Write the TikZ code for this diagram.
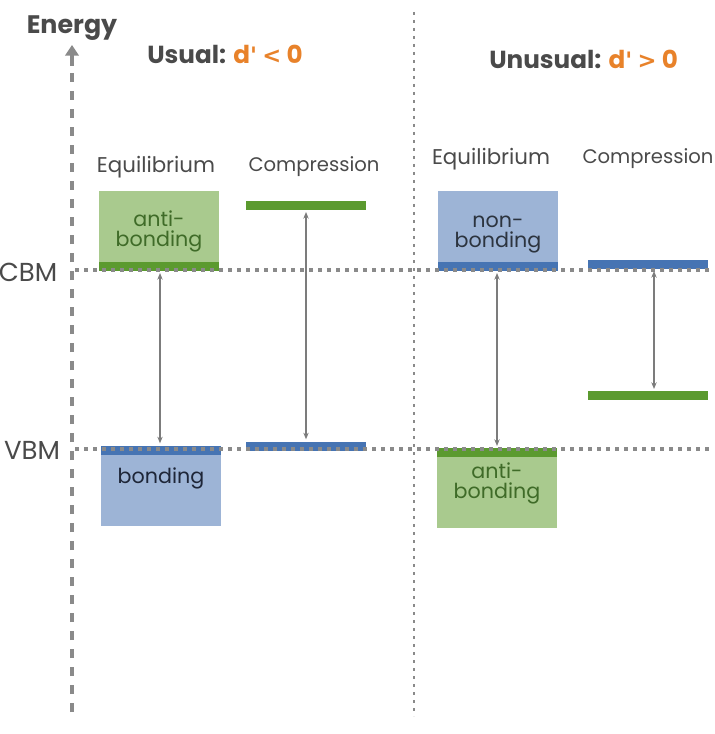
\documentclass[tikz,border=0pt]{standalone}
\usepackage{fontspec}
\setmainfont{Poppins}
\newfontfamily\symfont{DejaVu Sans}
\usetikzlibrary{arrows.meta}
\definecolor{lgreen}{HTML}{A9CA8E}
\definecolor{dgreen}{HTML}{5B9A2F}
\definecolor{lblue}{HTML}{9DB4D6}
\definecolor{dblue}{HTML}{4674B3}
\definecolor{orng}{HTML}{E8822A}
\definecolor{txt}{HTML}{4A4A4A}
\definecolor{gline}{HTML}{8A8A8A}
\definecolor{gtxt}{HTML}{3F6B28}
\definecolor{btxt}{HTML}{1E2638}
\newcommand{\symb}[1]{{\symfont\bfseries\fontsize{17}{20}\selectfont #1}}
\begin{document}
\begin{tikzpicture}[x=0.75pt,y=-0.75pt,
  box/.style={minimum width=90pt,minimum height=60pt,inner sep=0pt,outer sep=0pt},
  strip/.style={minimum width=90pt,minimum height=6.75pt,inner sep=0pt,outer sep=0pt},
  title/.style={font=\bfseries\fontsize{18.5}{22}\selectfont,text=txt,inner sep=0pt},
  colhead/.style={font=\fontsize{16}{19}\selectfont,text=txt,inner sep=0pt},
  comphead/.style={font=\fontsize{14.7}{19}\selectfont,text=txt,inner sep=0pt},
  lvl/.style={font=\fontsize{19.5}{22}\selectfont,text=txt,inner sep=0pt},
  boxtxt/.style={font=\fontsize{15.5}{15}\selectfont,align=center,inner sep=0pt},
  level/.style={gline,line width=3pt,dash pattern=on 3pt off 3.75pt},
  gap/.style={gline!90!black,line width=0.9pt,{Stealth[length=5pt,width=4pt]}-{Stealth[length=5pt,width=4pt]}},
  divider/.style={gline,line width=1.5pt,dash pattern=on 2pt off 4pt},
  axis/.style={gline,line width=3pt,dash pattern=on 6.75pt off 6.75pt}
]
\useasboundingbox (0,0) rectangle (714,734);

% axis
\coordinate (axb) at (72,712);
\coordinate (axm) at (72,62);
\coordinate (axt) at (72,45);
\draw[axis] (axb) -- (axm);
\draw[gline,line width=3pt,-{Triangle[width=10pt,length=8pt]}] ([yshift=-3pt]axm) -- (axt);
\node[title,font=\bfseries\fontsize{19}{22}\selectfont] (energy) at (72,28) {Energy};

% divider
\coordinate (dvt) at (414,12);
\coordinate (dvb) at (414,716);
\draw[divider] (dvt) -- (dvb);

% titles
\node[title,anchor=west] (usual) at (147,54) {Usual:\hspace{0.3em}\textcolor{orng}{d\symb{\symbol{39}} \symb{<} 0}};
\node[title,anchor=west] (unusual) at (489,59) {Unusual:\hspace{0.3em}\textcolor{orng}{d\symb{\symbol{39}} \symb{>} 0}};

% column heads
\node[colhead] (h1) at (156,167) {Equilibrium};
\node[comphead] (h2) at (314,167) {Compression};
\node[colhead] (h3) at (491,159) {Equilibrium};
\node[comphead] (h4) at (648,159) {Compression};

% level labels
\node[lvl] (cbm) at (28,272) {CBM};
\node[lvl] (vbm) at (32,450) {VBM};

% boxes
\node[box,fill=lgreen] (ab1) at (159,231) {};
\node[strip,fill=dgreen,anchor=south] (ab1s) at (ab1.south) {};
\node[boxtxt,text=gtxt] (ab1t) at (159,231) {anti-\\bonding};

\node[box,fill=lblue] (b1) at (161,486) {};
\node[strip,fill=dblue,anchor=north] (b1s) at (b1.north) {};
\node[boxtxt,text=btxt] (b1t) at (161,478) {bonding};

\node[strip,fill=dgreen] (c1a) at (306,205.5) {};
\node[strip,fill=dblue] (c1b) at (306,446.5) {};

\node[box,fill=lblue] (nb2) at (498,231) {};
\node[strip,fill=dblue,anchor=south] (nb2s) at (nb2.south) {};
\node[boxtxt,text=txt!70!dblue!60!black] (nb2t) at (498,235) {non-\\bonding};

\node[box,fill=lgreen] (ab2) at (497,488) {};
\node[strip,fill=dgreen,anchor=north] (ab2s) at (ab2.north) {};
\node[boxtxt,text=gtxt] (ab2t) at (497,483) {anti-\\bonding};

\node[strip,fill=dblue] (c2a) at (648,264.5) {};
\node[strip,fill=dgreen] (c2b) at (648,395.5) {};

% level lines
\coordinate (cbl) at (75,270);
\coordinate (cbr) at (712,270);
\coordinate (vbl) at (75,449);
\coordinate (vbr) at (712,449);
\draw[level] (cbl) -- (cbr);
\draw[level] (vbl) -- (vbr);

% gaps
\draw[gap] ([xshift=0.75pt,yshift=-1.5pt]ab1s.south) -- ([xshift=-0.75pt,yshift=2pt]b1s.north);
\draw[gap] ([yshift=-1.5pt]c1a.south) -- ([yshift=2pt]c1b.north);
\draw[gap] ([xshift=-0.75pt,yshift=-1.5pt]nb2s.south) -- ([yshift=1.5pt]ab2s.north);
\draw[gap] ([xshift=4.5pt,yshift=-1.5pt]c2a.south) -- ([xshift=4.5pt,yshift=1.5pt]c2b.north);
\end{tikzpicture}
\end{document}
